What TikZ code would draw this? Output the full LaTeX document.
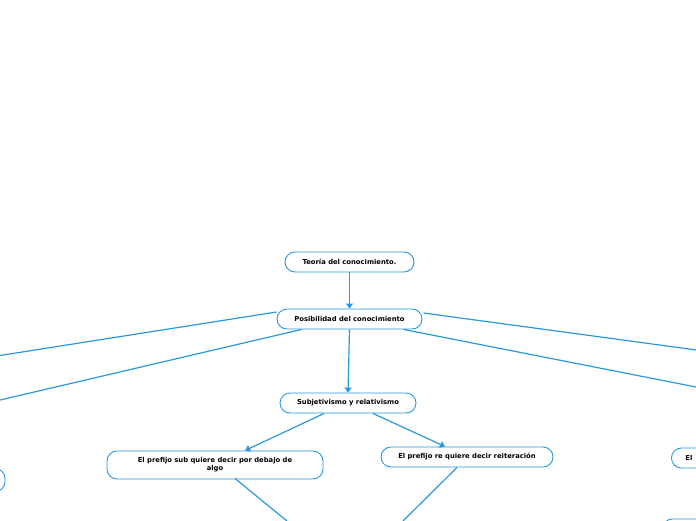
\documentclass[tikz,border=0pt]{standalone}
\usepackage{fontspec}
\setmainfont{DejaVu Sans}
\usetikzlibrary{arrows.meta}
\definecolor{mmblue}{RGB}{41,152,222}
\tikzset{
  topic/.style={draw=mmblue, line width=0.9pt, rounded corners=10pt, fill=white,
    font=\fontsize{6.8}{8}\selectfont\bfseries, text=black, align=center,
    minimum height=20pt, inner sep=2pt},
  link/.style={draw=mmblue, line width=1.2pt},
  arr/.style={link, -{Triangle[length=5pt,width=7pt]}}
}
\begin{document}
\begin{tikzpicture}[x=1pt,y=-1pt]
\useasboundingbox (0,0) rectangle (696,520);
\clip (0,0) rectangle (696,520);
% nodes
\node[topic, minimum width=129pt] (teo) at (349.5,262) {Teoría del conocimiento.};
\node[topic, minimum width=145pt] (pos) at (349.5,319) {Posibilidad del conocimiento};
\node[topic, minimum width=136pt] (sub) at (348,403) {Subjetivismo y relativismo};
\node[topic, minimum width=216pt, minimum height=28pt] (pref) at (215,465) {El prefijo sub quiere decir por debajo de\\algo};
\node[topic, minimum width=172pt] (re) at (467,457) {El prefijo re quiere decir reiteración};
\node[topic, minimum width=80pt, minimum height=23pt] (lft) at (-35,480) {};
\node[topic, minimum width=120pt, anchor=west, text width=100pt, align=left, inner xsep=14pt] (rgt) at (671,458) {El};
\node[topic, minimum width=120pt, minimum height=24pt, anchor=north west] (rbot) at (662,518.5) {};
% free ends
\coordinate (l1) at (-2,355.8);
\coordinate (l2) at (-2,400.5);
\coordinate (r1) at (698,350.2);
\coordinate (r2) at (698,387.4);
\coordinate (d1) at (287,521);
\coordinate (d2) at (403,521);
% connectors
\draw[arr] (teo.south) -- (pos.north);
\draw[arr] (pos.south) -- (sub.north);
\draw[link] ([xshift=-73pt,yshift=7pt]pos.center) -- (l1);
\draw[link] ([xshift=-48pt]pos.south) -- (l2);
\draw[link] ([xshift=74pt,yshift=6pt]pos.center) -- (r1);
\draw[link] ([xshift=54pt]pos.south) -- (r2);
\draw[arr] ([xshift=-24pt]sub.south) -- ([xshift=30pt]pref.north);
\draw[arr] ([xshift=25pt]sub.south) -- ([xshift=-22pt]re.north);
\draw[link] ([xshift=20pt,yshift=1pt]pref.south) -- (d1);
\draw[link] ([xshift=-10pt,yshift=0pt]re.south) -- (d2);
\end{tikzpicture}
\end{document}
